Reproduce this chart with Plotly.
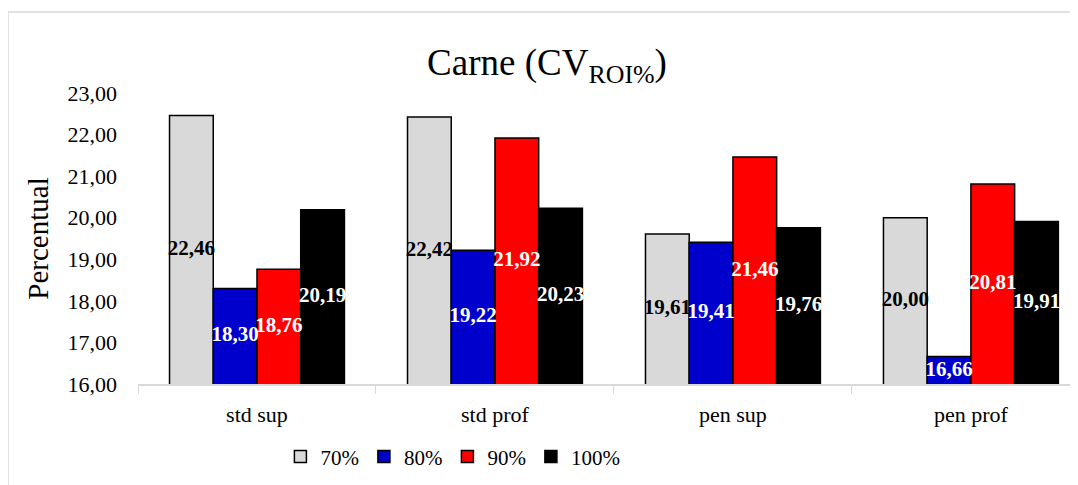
import plotly.graph_objects as go

categories = ["std sup", "std prof", "pen sup", "pen prof"]
series_names = ["70%", "80%", "90%", "100%"]
v70 = [22.46, 22.42, 19.61, 20.00]
v80 = [18.30, 19.22, 19.41, 16.66]
v90 = [18.76, 21.92, 21.46, 20.81]
v100 = [20.19, 20.23, 19.76, 19.91]
y_ticks = [16, 17, 18, 19, 20, 21, 22, 23]
y_min, y_max = 16, 23

series_values = [v70, v80, v90, v100]
fill_colors = ["#D9D9D9", "#0000CC", "#FF0000", "#000000"]
text_colors = ["#000000", "#FFFFFF", "#FFFFFF", "#FFFFFF"]

FONT = "Liberation Serif"

W, H = 1070, 477
L, T = 130, 85
PLOT_BOTTOM = 376

fig = go.Figure()
for name, vals, fc in zip(series_names, series_values, fill_colors):
    fig.add_trace(go.Bar(
        name=name, x=categories, y=vals, offsetgroup=name, alignmentgroup="a",
        marker=dict(color=fc, line=dict(color="#000000", width=1.5)),
    ))
for name, vals, tc in zip(series_names, series_values, text_colors):
    mids = [(y_min + v) / 2 for v in vals]
    fig.add_trace(go.Scatter(
        name=name, x=categories, y=mids, offsetgroup=name, alignmentgroup="a",
        mode="text", text=[f"<b>{v:.2f}</b>".replace(".", ",") for v in vals],
        textposition="middle center", showlegend=False, hoverinfo="skip",
        textfont=dict(family=FONT, size=21, color=tc), cliponaxis=False,
    ))

fig.update_layout(
    width=W, height=H,
    separators=",.",
    barmode="group", bargap=0.265, bargroupgap=0,
    scattermode="group", scattergap=0.265,
    plot_bgcolor="white", paper_bgcolor="white",
    margin=dict(l=L, r=0, t=T, b=H - PLOT_BOTTOM, pad=0),
    font=dict(family=FONT, size=22, color="#000000"),
    title=dict(text="Carne (CV<sub>ROI%</sub>)", x=0.5 + 4 / W, xref="container",
               y=1 - 54 / H, yref="container", xanchor="center", yanchor="middle",
               font=dict(family=FONT, size=37, color="#000000")),
    showlegend=True,
    legend=dict(orientation="h", x=0.335, xanchor="center", y=-0.25, yanchor="middle",
                itemwidth=30, font=dict(family=FONT, size=21, color="#000000"),
                traceorder="normal"),
    xaxis=dict(range=[-0.5, 3.45], showline=True, linecolor="#D9D9D9", linewidth=1.5,
               ticks="outside", tickson="boundaries", ticklen=8, tickcolor="#D9D9D9",
               ticklabelstandoff=10,
               tickfont=dict(family=FONT, size=22), showgrid=False),
    yaxis=dict(range=[y_min, y_max], tickvals=y_ticks, tickformat=".2f", showgrid=False,
               showline=False, zeroline=False, ticks="", ticklabelstandoff=20,
               tickfont=dict(family=FONT, size=22),
               title=dict(text="Percentual", font=dict(family=FONT, size=29), standoff=10)),
    shapes=[dict(type="rect", xref="paper", yref="paper",
                 x0=(0 - L) / 940, x1=1.2, y0=-0.6, y1=1 + (T - 4) / 291,
                 line=dict(color="#D9D9D9", width=1.5), fillcolor="rgba(0,0,0,0)", layer="below")],
)

fig.write_html("out.html")
